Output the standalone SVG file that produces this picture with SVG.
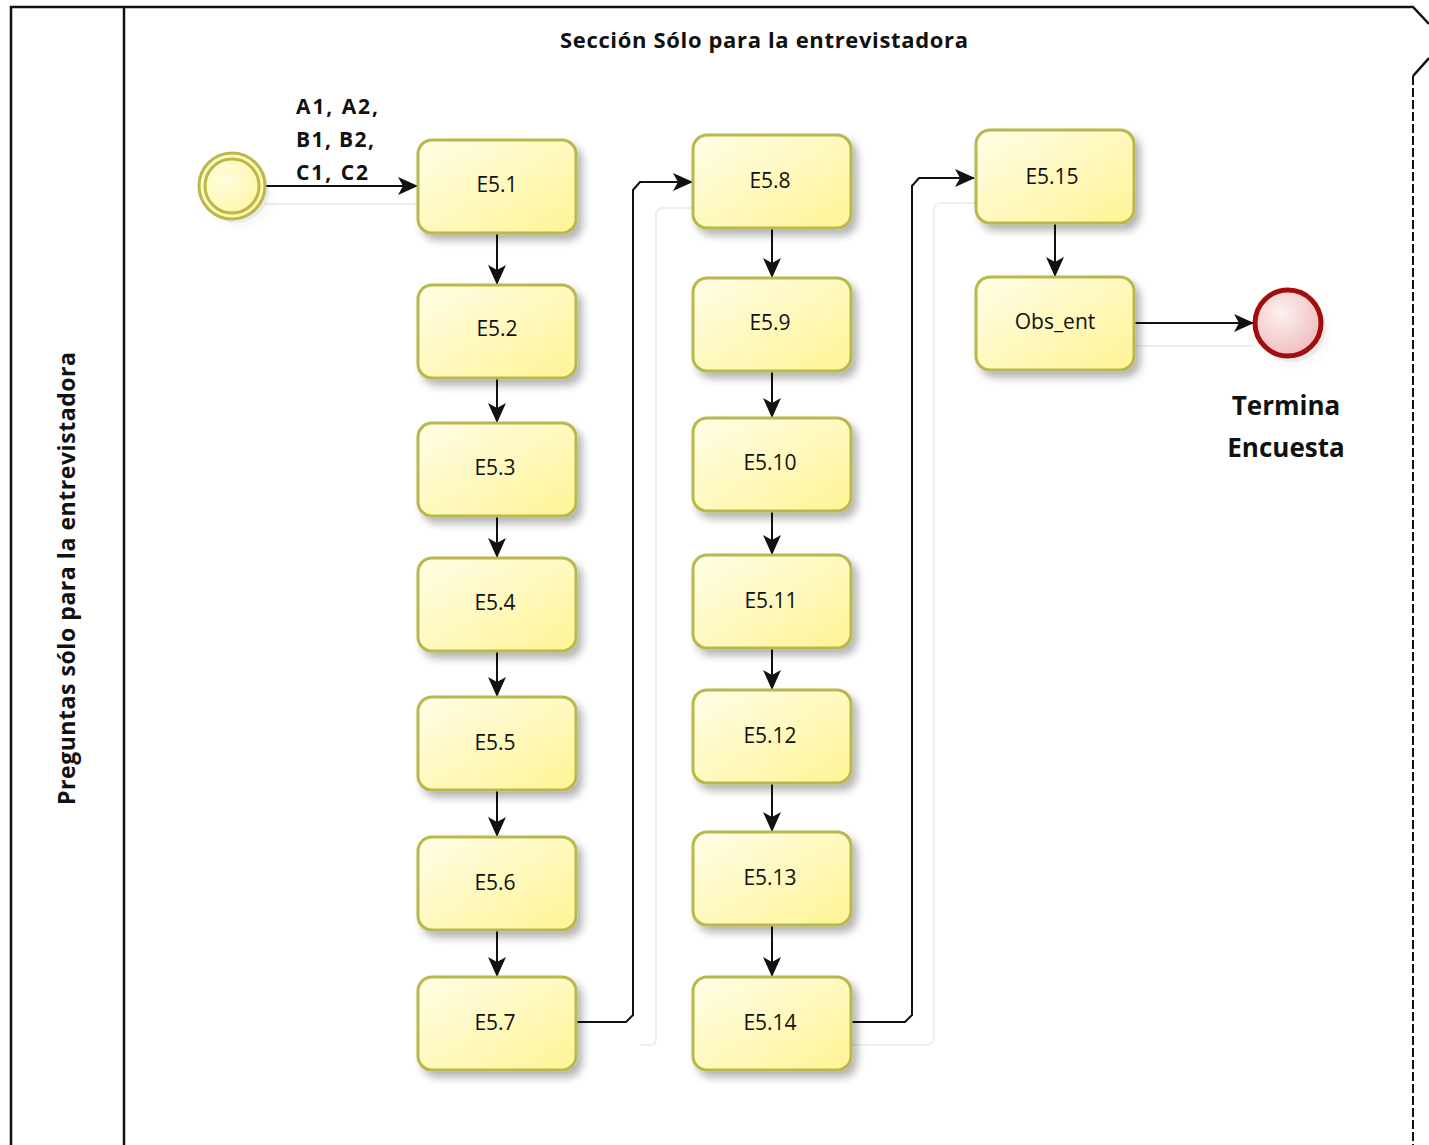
<svg xmlns="http://www.w3.org/2000/svg" width="1429" height="1145" viewBox="0 0 1429 1145">
<style>
.pool{fill:none;stroke:#111;stroke-width:2.5}
.task rect{fill:url(#tg);stroke:#b8b84e;stroke-width:3;filter:url(#sh)}
.task text{font-family:"Open Sans","DejaVu Sans",sans-serif;font-size:21px;fill:#111;text-anchor:middle;dominant-baseline:central}
.lbl{font-family:"Open Sans","DejaVu Sans",sans-serif;font-weight:bold;fill:#111}
.flow{fill:none;stroke:#111;stroke-width:2;marker-end:url(#ah)}
.ghost{fill:none;stroke:#eeeeee;stroke-width:2}
</style>
<defs>
<linearGradient id="tg" x1="0" y1="0" x2="1" y2="1">
<stop offset="0" stop-color="#fffde8"/>
<stop offset="1" stop-color="#fff494"/>
</linearGradient>
<radialGradient id="sg" cx="0.4" cy="0.4" r="0.7">
<stop offset="0" stop-color="#fffde0"/>
<stop offset="1" stop-color="#fff59a"/>
</radialGradient>
<radialGradient id="eg" cx="0.4" cy="0.35" r="0.7">
<stop offset="0" stop-color="#fdf0f0"/>
<stop offset="1" stop-color="#efbcbc"/>
</radialGradient>
<filter id="sh" x="-20%" y="-20%" width="150%" height="160%">
<feGaussianBlur in="SourceAlpha" stdDeviation="4"/>
<feOffset dx="5" dy="6" result="b"/>
<feComponentTransfer><feFuncA type="linear" slope="0.3"/></feComponentTransfer>
<feMerge><feMergeNode/><feMergeNode in="SourceGraphic"/></feMerge>
</filter>
<marker id="ah" viewBox="0 0 20 20" refX="19" refY="10" markerWidth="20" markerHeight="20" markerUnits="userSpaceOnUse" orient="auto">
<path d="M0,1 L20,10 L0,19 L5,10 Z" fill="#111"/>
</marker>
</defs>
<rect width="1429" height="1145" fill="#fff"/>
<g id="pool">
<path class="pool" d="M11,1145 L11,7 L1413,7 L1429,24"/>
<path class="pool" d="M1429,58 L1413,76"/>
<line x1="1413" y1="76" x2="1413" y2="1145" stroke="#111" stroke-width="2" stroke-dasharray="9,3"/>
<line class="pool" x1="124" y1="7" x2="124" y2="1145"/>
<text class="lbl" x="560" y="48" font-size="22" textLength="408">Sección Sólo para la entrevistadora</text>
<text class="lbl" x="0" y="0" font-size="23" textLength="453" transform="translate(75,805) rotate(-90)">Preguntas sólo para la entrevistadora</text>
</g>
<g id="connectors">
<path class="ghost" d="M265,204 L418,204"/>
<path class="ghost" d="M640,1045 L650,1045 Q656,1045 656,1039 L656,215 Q656,208 663,208 L693,208"/>
<path class="ghost" d="M851,1045 L925,1045 Q934,1045 934,1036 L934,210 Q934,203 941,203 L975,203"/>
<path class="ghost" d="M1134,346 L1254,346"/>
<path class="flow" d="M265,186 L417,186"/>
<path class="flow" d="M497,233 L497,284"/>
<path class="flow" d="M497,378 L497,422"/>
<path class="flow" d="M497,516 L497,557"/>
<path class="flow" d="M497,651 L497,696"/>
<path class="flow" d="M497,790 L497,836"/>
<path class="flow" d="M497,930 L497,976"/>
<path class="flow" d="M576,1022 L626,1022 L633,1015 L633,190 L640,182 L692,182"/>
<path class="flow" d="M772,228 L772,277"/>
<path class="flow" d="M772,371 L772,417"/>
<path class="flow" d="M772,511 L772,554"/>
<path class="flow" d="M772,648 L772,689"/>
<path class="flow" d="M772,783 L772,831"/>
<path class="flow" d="M772,925 L772,976"/>
<path class="flow" d="M851,1022 L905,1022 L912,1015 L912,186 L919,178 L974,178"/>
<path class="flow" d="M1055,223 L1055,276"/>
<path class="flow" d="M1134,323 L1253,323"/>
<text class="lbl" font-size="21" x="296" y="114" textLength="82">A1, A2,</text>
<text class="lbl" font-size="21" x="296" y="147" textLength="78">B1, B2,</text>
<text class="lbl" font-size="21" x="296" y="180" textLength="72">C1, C2</text>
</g>
<g id="start">
<circle cx="236" cy="190" r="33" fill="#000" opacity="0.08" filter="url(#sh)"/>
<circle cx="232" cy="186" r="33" fill="url(#sg)" stroke="#b8b84e" stroke-width="3"/>
<circle cx="232" cy="186" r="27" fill="none" stroke="#b8b84e" stroke-width="3"/>
</g>
<g id="n1" class="task"><rect x="418" y="140" width="158" height="93" rx="14"/><text x="497" y="184">E5.1</text></g>
<g id="n2" class="task"><rect x="418" y="285" width="158" height="93" rx="14"/><text x="497" y="328">E5.2</text></g>
<g id="n3" class="task"><rect x="418" y="423" width="158" height="93" rx="14"/><text x="495" y="467">E5.3</text></g>
<g id="n4" class="task"><rect x="418" y="558" width="158" height="93" rx="14"/><text x="495" y="602">E5.4</text></g>
<g id="n5" class="task"><rect x="418" y="697" width="158" height="93" rx="14"/><text x="495" y="742">E5.5</text></g>
<g id="n6" class="task"><rect x="418" y="837" width="158" height="93" rx="14"/><text x="495" y="882">E5.6</text></g>
<g id="n7" class="task"><rect x="418" y="977" width="158" height="93" rx="14"/><text x="495" y="1022">E5.7</text></g>
<g id="n8" class="task"><rect x="693" y="135" width="158" height="93" rx="14"/><text x="770" y="180">E5.8</text></g>
<g id="n9" class="task"><rect x="693" y="278" width="158" height="93" rx="14"/><text x="770" y="322">E5.9</text></g>
<g id="n10" class="task"><rect x="693" y="418" width="158" height="93" rx="14"/><text x="770" y="462">E5.10</text></g>
<g id="n11" class="task"><rect x="693" y="555" width="158" height="93" rx="14"/><text x="771" y="600">E5.11</text></g>
<g id="n12" class="task"><rect x="693" y="690" width="158" height="93" rx="14"/><text x="770" y="735">E5.12</text></g>
<g id="n13" class="task"><rect x="693" y="832" width="158" height="93" rx="14"/><text x="770" y="877">E5.13</text></g>
<g id="n14" class="task"><rect x="693" y="977" width="158" height="93" rx="14"/><text x="770" y="1022">E5.14</text></g>
<g id="n15" class="task"><rect x="976" y="130" width="158" height="93" rx="14"/><text x="1052" y="176">E5.15</text></g>
<g id="n16" class="task"><rect x="976" y="277" width="158" height="93" rx="14"/><text x="1055" y="321">Obs_ent</text></g>
<g id="end">
<circle cx="1292" cy="328" r="34" fill="#000" opacity="0.08" filter="url(#sh)"/>
<circle cx="1288" cy="323" r="33" fill="url(#eg)" stroke="#a50d0d" stroke-width="5"/>
<text class="lbl" font-size="26" x="1286" y="415" text-anchor="middle">Termina</text>
<text class="lbl" font-size="26" x="1286" y="457" text-anchor="middle">Encuesta</text>
</g>
</svg>
